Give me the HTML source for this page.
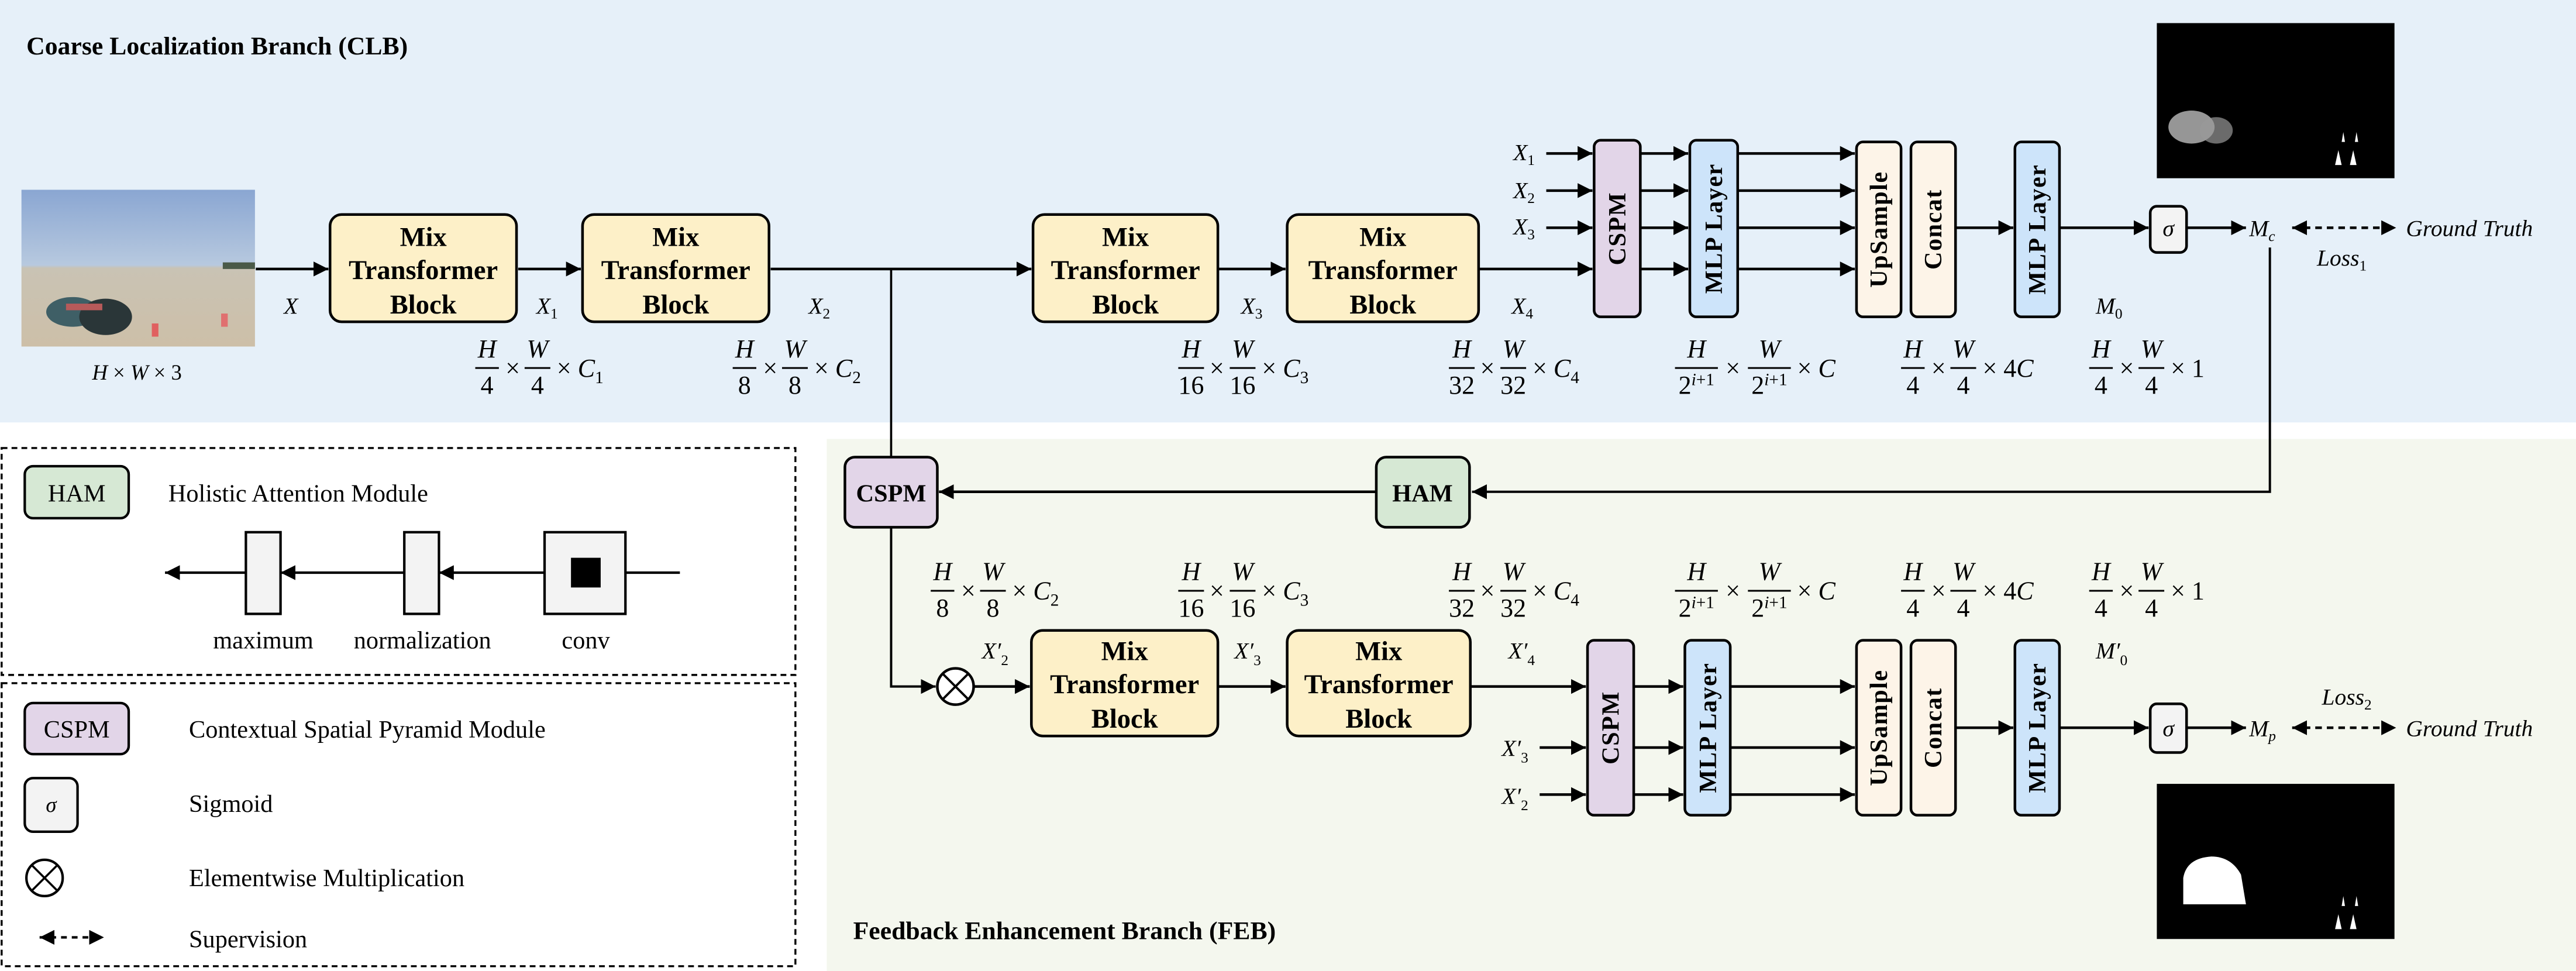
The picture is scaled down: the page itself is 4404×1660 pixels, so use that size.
<!DOCTYPE html>
<html><head><meta charset="utf-8"><style>
html,body{margin:0;padding:0;background:#fff;}
svg{display:block;}
text{font-family:"Liberation Serif",serif;}
.b{font-weight:bold;}
.i{font-style:italic;}
</style></head><body>
<svg width="4404" height="1660" viewBox="0 0 1561 588.4" preserveAspectRatio="none" xmlns="http://www.w3.org/2000/svg">
<defs>
<marker id="a" viewBox="0 0 10 10" refX="10" refY="5" markerWidth="9" markerHeight="9" markerUnits="userSpaceOnUse" orient="auto"><path d="M0,0 L10,5 L0,10z"/></marker>
<marker id="as" viewBox="0 0 10 10" refX="0" refY="5" markerWidth="9" markerHeight="9" markerUnits="userSpaceOnUse" orient="auto"><path d="M10,0 L0,5 L10,10z"/></marker>
<linearGradient id="sky" x1="0" y1="0" x2="0" y2="1"><stop offset="0" stop-color="#8aa6d2"/><stop offset="0.48" stop-color="#b7c9df"/><stop offset="0.5" stop-color="#c9c3b4"/><stop offset="1" stop-color="#cdbfa8"/></linearGradient>
</defs>
<!-- backgrounds -->
<rect x="0" y="0" width="1561" height="256" fill="#e6f0f9"/>
<rect x="501" y="266" width="1060" height="322.4" fill="#f4f7ee"/>
<text x="16" y="33" class="b" font-size="15.5">Coarse Localization Branch (CLB)</text>
<text x="517" y="569" class="b" font-size="15.5">Feedback Enhancement Branch (FEB)</text>

<!-- photo -->
<rect x="13" y="115" width="141.5" height="95" fill="url(#sky)"/>
<rect x="135" y="159" width="19.5" height="4" fill="#4a5a48"/>
<ellipse cx="44" cy="189" rx="16" ry="9" fill="#3f5f66"/>
<ellipse cx="64" cy="192" rx="16" ry="11" fill="#2a3638"/>
<rect x="40" y="184" width="22" height="4" fill="#b75a5a"/>
<rect x="92" y="196" width="4" height="8" fill="#e06060"/>
<rect x="134" y="190" width="4" height="8" fill="#e07070"/>
<text x="83" y="230" text-anchor="middle" font-size="13"><tspan class="i">H</tspan> × <tspan class="i">W</tspan> × 3</text>

<g fill="none" stroke="#000" stroke-width="1.6">
<line x1="155" y1="163" x2="199" y2="163" marker-end="url(#a)"/>
<line x1="314" y1="163" x2="352" y2="163" marker-end="url(#a)"/>
<line x1="467" y1="163" x2="625" y2="163" marker-end="url(#a)"/>
<line x1="540" y1="163" x2="540" y2="277" stroke-width="1.3"/>
<line x1="737" y1="163" x2="779" y2="163" marker-end="url(#a)"/>
<line x1="896" y1="163" x2="965" y2="163" marker-end="url(#a)"/>
<line x1="937" y1="93" x2="965" y2="93" marker-end="url(#a)"/>
<line x1="937" y1="115.5" x2="965" y2="115.5" marker-end="url(#a)"/>
<line x1="937" y1="138" x2="965" y2="138" marker-end="url(#a)"/>
<line x1="994" y1="93" x2="1023" y2="93" marker-end="url(#a)"/>
<line x1="994" y1="115.5" x2="1023" y2="115.5" marker-end="url(#a)"/>
<line x1="994" y1="138" x2="1023" y2="138" marker-end="url(#a)"/>
<line x1="994" y1="163" x2="1023" y2="163" marker-end="url(#a)"/>
<line x1="1053" y1="93" x2="1124" y2="93" marker-end="url(#a)"/>
<line x1="1053" y1="115.5" x2="1124" y2="115.5" marker-end="url(#a)"/>
<line x1="1053" y1="138" x2="1124" y2="138" marker-end="url(#a)"/>
<line x1="1053" y1="163" x2="1124" y2="163" marker-end="url(#a)"/>
<line x1="1185" y1="138" x2="1220" y2="138" marker-end="url(#a)"/>
<line x1="1248" y1="138" x2="1302" y2="138" marker-end="url(#a)"/>
<line x1="1325" y1="138" x2="1361" y2="138" marker-end="url(#a)"/>
<line x1="1389" y1="138" x2="1452" y2="138" stroke-dasharray="4,3" marker-start="url(#as)" marker-end="url(#a)"/>
<polyline points="1375.5,150 1375.5,298 892,298" stroke-width="1.4" marker-end="url(#a)"/>
<line x1="834" y1="298" x2="569" y2="298" marker-end="url(#a)"/>
<polyline points="540,319.5 540,416 567,416" stroke-width="1.4" marker-end="url(#a)"/>
<line x1="590" y1="416" x2="624" y2="416" marker-end="url(#a)"/>
<line x1="738" y1="416" x2="779" y2="416" marker-end="url(#a)"/>
<line x1="891" y1="416" x2="961" y2="416" marker-end="url(#a)"/>
<line x1="933" y1="453" x2="961" y2="453" marker-end="url(#a)"/>
<line x1="933" y1="481.5" x2="961" y2="481.5" marker-end="url(#a)"/>
<line x1="990" y1="416" x2="1020" y2="416" marker-end="url(#a)"/>
<line x1="990" y1="453" x2="1020" y2="453" marker-end="url(#a)"/>
<line x1="990" y1="481.5" x2="1020" y2="481.5" marker-end="url(#a)"/>
<line x1="1048.5" y1="416" x2="1124" y2="416" marker-end="url(#a)"/>
<line x1="1048.5" y1="453" x2="1124" y2="453" marker-end="url(#a)"/>
<line x1="1048.5" y1="481.5" x2="1124" y2="481.5" marker-end="url(#a)"/>
<line x1="1185" y1="441" x2="1220" y2="441" marker-end="url(#a)"/>
<line x1="1248" y1="441" x2="1302" y2="441" marker-end="url(#a)"/>
<line x1="1325" y1="441" x2="1361" y2="441" marker-end="url(#a)"/>
<line x1="1389" y1="441" x2="1452" y2="441" stroke-dasharray="4,3" marker-start="url(#as)" marker-end="url(#a)"/>
</g>

<g stroke="#000" stroke-width="1.6">
<rect x="200" y="130" width="113" height="65" rx="7" fill="#fdf0c8"/>
<rect x="353" y="130" width="113" height="65" rx="7" fill="#fdf0c8"/>
<rect x="626" y="130" width="112" height="65" rx="7" fill="#fdf0c8"/>
<rect x="780" y="130" width="116" height="65" rx="7" fill="#fdf0c8"/>
<rect x="966" y="85" width="28" height="107" rx="4" fill="#e2d5e8"/>
<rect x="1024" y="85" width="29" height="107" rx="4" fill="#cde4fa"/>
<rect x="1125" y="86" width="27" height="106" rx="4" fill="#fdf4e8"/>
<rect x="1158" y="86" width="27" height="106" rx="4" fill="#fdf4e8"/>
<rect x="1221" y="86" width="27" height="106" rx="4" fill="#cde4fa"/>
<rect x="1303" y="125" width="22" height="28" rx="4" fill="#f3f3f3"/>
<rect x="512" y="277" width="56" height="42.5" rx="6" fill="#e2d5e8"/>
<rect x="834" y="277" width="56.5" height="42.5" rx="6" fill="#d6e8d4"/>
<rect x="625" y="382" width="113" height="64" rx="7" fill="#fdf0c8"/>
<rect x="780" y="382" width="111" height="64" rx="7" fill="#fdf0c8"/>
<rect x="962" y="388" width="28" height="106" rx="4" fill="#e2d5e8"/>
<rect x="1021" y="388" width="27.5" height="106" rx="4" fill="#cde4fa"/>
<rect x="1125" y="388" width="27" height="106" rx="4" fill="#fdf4e8"/>
<rect x="1158" y="388" width="27" height="106" rx="4" fill="#fdf4e8"/>
<rect x="1221" y="388" width="27" height="106" rx="4" fill="#cde4fa"/>
<rect x="1303" y="426.5" width="22" height="29.5" rx="4" fill="#f3f3f3"/>
<circle cx="579" cy="416" r="11" fill="#fff"/>
</g>
<path d="M571.2,408.2 L586.8,423.8 M586.8,408.2 L571.2,423.8" stroke="#000" stroke-width="1.4"/>

<g class="b" font-size="16.5" text-anchor="middle">
<text x="256.5" y="149">Mix</text><text x="256.5" y="169">Transformer</text><text x="256.5" y="190">Block</text>
<text x="409.5" y="149">Mix</text><text x="409.5" y="169">Transformer</text><text x="409.5" y="190">Block</text>
<text x="682" y="149">Mix</text><text x="682" y="169">Transformer</text><text x="682" y="190">Block</text>
<text x="838" y="149">Mix</text><text x="838" y="169">Transformer</text><text x="838" y="190">Block</text>
<text x="681.5" y="400">Mix</text><text x="681.5" y="420">Transformer</text><text x="681.5" y="441">Block</text>
<text x="835.5" y="400">Mix</text><text x="835.5" y="420">Transformer</text><text x="835.5" y="441">Block</text>
<text x="540" y="304" font-size="15">CSPM</text>
<text x="862" y="304" font-size="15">HAM</text>
</g>
<g class="b" font-size="15" text-anchor="middle" letter-spacing="0.5">
<text transform="translate(985,138.5) rotate(-90)">CSPM</text>
<text transform="translate(1043.5,138.5) rotate(-90)">MLP Layer</text>
<text transform="translate(1143.5,139) rotate(-90)">UpSample</text>
<text transform="translate(1176.5,139) rotate(-90)">Concat</text>
<text transform="translate(1239.5,139) rotate(-90)">MLP Layer</text>
<text transform="translate(981,441) rotate(-90)">CSPM</text>
<text transform="translate(1040,441) rotate(-90)">MLP Layer</text>
<text transform="translate(1143.5,441) rotate(-90)">UpSample</text>
<text transform="translate(1176.5,441) rotate(-90)">Concat</text>
<text transform="translate(1239.5,441) rotate(-90)">MLP Layer</text>
</g>
<g class="i" font-size="14" text-anchor="middle">
<text x="1314" y="143">σ</text>
<text x="1314" y="446">σ</text>
</g>

<g class="i" font-size="14">
<text x="172" y="190">X</text>
<text x="325" y="190">X<tspan font-size="9" font-style="normal" dy="3">1</tspan></text>
<text x="490" y="190">X<tspan font-size="9" font-style="normal" dy="3">2</tspan></text>
<text x="752" y="190">X<tspan font-size="9" font-style="normal" dy="3">3</tspan></text>
<text x="916" y="190">X<tspan font-size="9" font-style="normal" dy="3">4</tspan></text>
<text x="917" y="97">X<tspan font-size="9" font-style="normal" dy="3">1</tspan></text>
<text x="917" y="120">X<tspan font-size="9" font-style="normal" dy="3">2</tspan></text>
<text x="917" y="142">X<tspan font-size="9" font-style="normal" dy="3">3</tspan></text>
<text x="1270" y="190">M<tspan font-size="9" font-style="normal" dy="3">0</tspan></text>
<text x="1363" y="143">M<tspan font-size="9" dy="3">c</tspan></text>
<text x="1404" y="161">Loss<tspan font-size="9" font-style="normal" dy="3">1</tspan></text>
<text x="1458" y="143">Ground Truth</text>
<text x="595" y="399">X′<tspan font-size="9" font-style="normal" dy="4">2</tspan></text>
<text x="748" y="399">X′<tspan font-size="9" font-style="normal" dy="4">3</tspan></text>
<text x="914" y="399">X′<tspan font-size="9" font-style="normal" dy="4">4</tspan></text>
<text x="910" y="458">X′<tspan font-size="9" font-style="normal" dy="4">3</tspan></text>
<text x="910" y="487">X′<tspan font-size="9" font-style="normal" dy="4">2</tspan></text>
<text x="1270" y="399">M′<tspan font-size="9" font-style="normal" dy="4">0</tspan></text>
<text x="1363" y="446">M<tspan font-size="9" dy="3">p</tspan></text>
<text x="1407" y="427">Loss<tspan font-size="9" font-style="normal" dy="3">2</tspan></text>
<text x="1458" y="446">Ground Truth</text>
</g>

<g font-size="12" text-anchor="middle" stroke-width="0.8">
<g transform="translate(288,223) scale(1.3)">
<text x="5.5" y="-5" class="i">H</text><line x1="0" y1="0" x2="11" y2="0" stroke="#000"/><text x="5.5" y="12">4</text>
<text x="17.5" y="4">×</text>
<text x="29" y="-5" class="i">W</text><line x1="23" y1="0" x2="35" y2="0" stroke="#000"/><text x="29" y="12">4</text>
<text x="38" y="4" text-anchor="start">× <tspan class="i">C</tspan><tspan font-size="8" dy="3">1</tspan></text>
</g>
<g transform="translate(444,223) scale(1.3)">
<text x="5.5" y="-5" class="i">H</text><line x1="0" y1="0" x2="11" y2="0" stroke="#000"/><text x="5.5" y="12">8</text>
<text x="17.5" y="4">×</text>
<text x="29" y="-5" class="i">W</text><line x1="23" y1="0" x2="35" y2="0" stroke="#000"/><text x="29" y="12">8</text>
<text x="38" y="4" text-anchor="start">× <tspan class="i">C</tspan><tspan font-size="8" dy="3">2</tspan></text>
</g>
<g transform="translate(714,223) scale(1.3)">
<text x="6" y="-5" class="i">H</text><line x1="0" y1="0" x2="12" y2="0" stroke="#000"/><text x="6" y="12">16</text>
<text x="18" y="4">×</text>
<text x="30" y="-5" class="i">W</text><line x1="24" y1="0" x2="36" y2="0" stroke="#000"/><text x="30" y="12">16</text>
<text x="39" y="4" text-anchor="start">× <tspan class="i">C</tspan><tspan font-size="8" dy="3">3</tspan></text>
</g>
<g transform="translate(878,223) scale(1.3)">
<text x="6" y="-5" class="i">H</text><line x1="0" y1="0" x2="12" y2="0" stroke="#000"/><text x="6" y="12">32</text>
<text x="18" y="4">×</text>
<text x="30" y="-5" class="i">W</text><line x1="24" y1="0" x2="36" y2="0" stroke="#000"/><text x="30" y="12">32</text>
<text x="39" y="4" text-anchor="start">× <tspan class="i">C</tspan><tspan font-size="8" dy="3">4</tspan></text>
</g>
<g transform="translate(1015,223) scale(1.3)">
<text x="10" y="-5" class="i">H</text><line x1="0" y1="0" x2="20" y2="0" stroke="#000"/><text x="10" y="12">2<tspan font-size="8" dy="-4"><tspan class="i">i</tspan>+1</tspan></text>
<text x="27" y="4">×</text>
<text x="44" y="-5" class="i">W</text><line x1="34" y1="0" x2="54" y2="0" stroke="#000"/><text x="44" y="12">2<tspan font-size="8" dy="-4"><tspan class="i">i</tspan>+1</tspan></text>
<text x="57" y="4" text-anchor="start">× <tspan class="i">C</tspan></text>
</g>
<g transform="translate(1152,223) scale(1.3)">
<text x="5.5" y="-5" class="i">H</text><line x1="0" y1="0" x2="11" y2="0" stroke="#000"/><text x="5.5" y="12">4</text>
<text x="17.5" y="4">×</text>
<text x="29" y="-5" class="i">W</text><line x1="23" y1="0" x2="35" y2="0" stroke="#000"/><text x="29" y="12">4</text>
<text x="38" y="4" text-anchor="start">× 4<tspan class="i">C</tspan></text>
</g>
<g transform="translate(1266,223) scale(1.3)">
<text x="5.5" y="-5" class="i">H</text><line x1="0" y1="0" x2="11" y2="0" stroke="#000"/><text x="5.5" y="12">4</text>
<text x="17.5" y="4">×</text>
<text x="29" y="-5" class="i">W</text><line x1="23" y1="0" x2="35" y2="0" stroke="#000"/><text x="29" y="12">4</text>
<text x="38" y="4" text-anchor="start">× 1</text>
</g>
<g transform="translate(564,358) scale(1.3)">
<text x="5.5" y="-5" class="i">H</text><line x1="0" y1="0" x2="11" y2="0" stroke="#000"/><text x="5.5" y="12">8</text>
<text x="17.5" y="4">×</text>
<text x="29" y="-5" class="i">W</text><line x1="23" y1="0" x2="35" y2="0" stroke="#000"/><text x="29" y="12">8</text>
<text x="38" y="4" text-anchor="start">× <tspan class="i">C</tspan><tspan font-size="8" dy="3">2</tspan></text>
</g>
<g transform="translate(714,358) scale(1.3)">
<text x="6" y="-5" class="i">H</text><line x1="0" y1="0" x2="12" y2="0" stroke="#000"/><text x="6" y="12">16</text>
<text x="18" y="4">×</text>
<text x="30" y="-5" class="i">W</text><line x1="24" y1="0" x2="36" y2="0" stroke="#000"/><text x="30" y="12">16</text>
<text x="39" y="4" text-anchor="start">× <tspan class="i">C</tspan><tspan font-size="8" dy="3">3</tspan></text>
</g>
<g transform="translate(878,358) scale(1.3)">
<text x="6" y="-5" class="i">H</text><line x1="0" y1="0" x2="12" y2="0" stroke="#000"/><text x="6" y="12">32</text>
<text x="18" y="4">×</text>
<text x="30" y="-5" class="i">W</text><line x1="24" y1="0" x2="36" y2="0" stroke="#000"/><text x="30" y="12">32</text>
<text x="39" y="4" text-anchor="start">× <tspan class="i">C</tspan><tspan font-size="8" dy="3">4</tspan></text>
</g>
<g transform="translate(1015,358) scale(1.3)">
<text x="10" y="-5" class="i">H</text><line x1="0" y1="0" x2="20" y2="0" stroke="#000"/><text x="10" y="12">2<tspan font-size="8" dy="-4"><tspan class="i">i</tspan>+1</tspan></text>
<text x="27" y="4">×</text>
<text x="44" y="-5" class="i">W</text><line x1="34" y1="0" x2="54" y2="0" stroke="#000"/><text x="44" y="12">2<tspan font-size="8" dy="-4"><tspan class="i">i</tspan>+1</tspan></text>
<text x="57" y="4" text-anchor="start">× <tspan class="i">C</tspan></text>
</g>
<g transform="translate(1152,358) scale(1.3)">
<text x="5.5" y="-5" class="i">H</text><line x1="0" y1="0" x2="11" y2="0" stroke="#000"/><text x="5.5" y="12">4</text>
<text x="17.5" y="4">×</text>
<text x="29" y="-5" class="i">W</text><line x1="23" y1="0" x2="35" y2="0" stroke="#000"/><text x="29" y="12">4</text>
<text x="38" y="4" text-anchor="start">× 4<tspan class="i">C</tspan></text>
</g>
<g transform="translate(1266,358) scale(1.3)">
<text x="5.5" y="-5" class="i">H</text><line x1="0" y1="0" x2="11" y2="0" stroke="#000"/><text x="5.5" y="12">4</text>
<text x="17.5" y="4">×</text>
<text x="29" y="-5" class="i">W</text><line x1="23" y1="0" x2="35" y2="0" stroke="#000"/><text x="29" y="12">4</text>
<text x="38" y="4" text-anchor="start">× 1</text>
</g>
</g>

<rect x="1307" y="14" width="144" height="94" fill="#000"/>
<ellipse cx="1328" cy="77" rx="14" ry="10" fill="#bbb" opacity="0.8"/>
<ellipse cx="1343" cy="79" rx="10" ry="8" fill="#999" opacity="0.7"/>
<path d="M1415,100 l2,-9 l2,9z M1424,100 l2,-9 l2,9z M1419,86 l1,-6 l1,6z M1427,86 l1,-6 l1,6z" fill="#fff"/>
<rect x="1307" y="475" width="144" height="94" fill="#000"/>
<path d="M1323,548 L1323,532 Q1325,520 1340,519 Q1352,519 1358,530 L1361,548 Z" fill="#fff"/>
<path d="M1415,563 l2,-9 l2,9z M1424,563 l2,-9 l2,9z M1419,549 l1,-6 l1,6z M1427,549 l1,-6 l1,6z" fill="#fff"/>

<g fill="none" stroke="#000" stroke-width="1.2" stroke-dasharray="3.5,2.5">
<rect x="1" y="271.5" width="481" height="137.5"/>
<rect x="1" y="414" width="481" height="171.5"/>
</g>
<g stroke="#000" stroke-width="1.5">
<rect x="15" y="282.5" width="63" height="31.5" rx="5" fill="#d6e8d4"/>
<rect x="15" y="426" width="63" height="31" rx="5" fill="#e2d5e8"/>
<rect x="15" y="471.5" width="32" height="32.5" rx="5" fill="#f3f3f3"/>
<circle cx="27" cy="532" r="11" fill="#fff"/>
<rect x="149" y="322.5" width="21" height="49.5" fill="#f3f3f3"/>
<rect x="245" y="322.5" width="21" height="49.5" fill="#f3f3f3"/>
<rect x="330" y="322.5" width="49" height="49.5" fill="#f3f3f3"/>
</g>
<rect x="346" y="338" width="18" height="18" fill="#000"/>
<path d="M19.2,524.2 L34.8,539.8 M34.8,524.2 L19.2,539.8" stroke="#000" stroke-width="1.3"/>
<g stroke="#000" stroke-width="1.5" fill="none">
<line x1="412" y1="347" x2="379" y2="347"/>
<line x1="330" y1="347" x2="266" y2="347" marker-end="url(#a)"/>
<line x1="245" y1="347" x2="170" y2="347" marker-end="url(#a)"/>
<line x1="149" y1="347" x2="100" y2="347" marker-end="url(#a)"/>
<line x1="24" y1="568" x2="63" y2="568" stroke-dasharray="3.5,3" marker-start="url(#as)" marker-end="url(#a)"/>
</g>
<g font-size="15">
<text x="46.5" y="304" text-anchor="middle">HAM</text>
<text x="46.5" y="447" text-anchor="middle">CSPM</text>
<text x="31" y="492" text-anchor="middle" class="i" font-size="13">σ</text>
<text x="102" y="304">Holistic Attention Module</text>
<text x="114.5" y="447">Contextual Spatial Pyramid Module</text>
<text x="114.5" y="492">Sigmoid</text>
<text x="114.5" y="537">Elementwise Multiplication</text>
<text x="114.5" y="574">Supervision</text>
<text x="159.5" y="393" text-anchor="middle">maximum</text>
<text x="256" y="393" text-anchor="middle">normalization</text>
<text x="355" y="393" text-anchor="middle">conv</text>
</g>
</svg>
</body></html>
